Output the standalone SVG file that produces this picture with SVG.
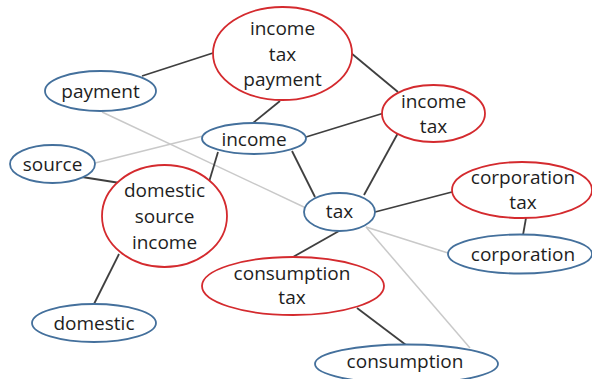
<svg xmlns="http://www.w3.org/2000/svg" width="592" height="379" viewBox="0 0 592 379">
<style>
.bg{fill:#ffffff}
.dk{stroke:#3f3f3f;stroke-width:1.8;fill:none}
.lt{stroke:#c9c9c9;stroke-width:1.5;fill:none}
.b{fill:#ffffff;stroke:#44709c;stroke-width:1.8}
.r{fill:#ffffff;stroke:#d42a2e;stroke-width:1.8}
text{font-family:"Open Sans","Noto Sans","Liberation Sans",sans-serif;font-size:19px;fill:#1e1e1e;text-anchor:middle}
</style>
<rect class="bg" x="0" y="0" width="592" height="379"/>
<g id="connectors">
<line class="lt" x1="102" y1="112" x2="306" y2="208"/>
<line class="lt" x1="95" y1="163" x2="203" y2="136"/>
<line class="lt" x1="366" y1="227" x2="448" y2="253"/>
<line class="lt" x1="366" y1="227" x2="470" y2="348"/>
<line class="dk" x1="142" y1="76" x2="213" y2="53"/>
<line class="dk" x1="280" y1="101" x2="253" y2="123"/>
<line class="dk" x1="351" y1="53" x2="398" y2="92"/>
<line class="dk" x1="306" y1="137" x2="384" y2="113"/>
<line class="dk" x1="398" y1="133" x2="364" y2="195"/>
<line class="dk" x1="292" y1="151" x2="315" y2="197"/>
<line class="dk" x1="82" y1="177" x2="120" y2="183"/>
<line class="dk" x1="218" y1="152" x2="209" y2="182"/>
<line class="dk" x1="119" y1="254" x2="94" y2="304"/>
<line class="dk" x1="375" y1="212" x2="452" y2="192"/>
<line class="dk" x1="339" y1="231" x2="293" y2="257"/>
<line class="dk" x1="357" y1="308" x2="406" y2="345"/>
<line class="dk" x1="526" y1="218" x2="523" y2="235"/>
</g>
<g id="income-tax-payment">
<ellipse class="r" cx="282.5" cy="53.5" rx="69.5" ry="46.5"/>
<text x="282.5" y="35">income</text>
<text x="282.5" y="61">tax</text>
<text x="282.5" y="86">payment</text>
</g>
<g id="payment">
<ellipse class="b" cx="100.5" cy="91" rx="55.5" ry="20"/>
<text x="100.5" y="97.5">payment</text>
</g>
<g id="income">
<ellipse class="b" cx="254" cy="138.5" rx="52" ry="15.5"/>
<text x="254" y="145.5">income</text>
</g>
<g id="source">
<ellipse class="b" cx="52.5" cy="164" rx="42.5" ry="19"/>
<text x="52.5" y="171">source</text>
</g>
<g id="domestic-source-income">
<ellipse class="r" cx="164.5" cy="216" rx="62.5" ry="51"/>
<text x="164.5" y="197">domestic</text>
<text x="164.5" y="223">source</text>
<text x="164.5" y="249">income</text>
</g>
<g id="domestic">
<ellipse class="b" cx="94" cy="323" rx="62" ry="19"/>
<text x="94" y="329.5">domestic</text>
</g>
<g id="income-tax">
<ellipse class="r" cx="433.5" cy="113.5" rx="51.5" ry="28.5"/>
<text x="433.5" y="108">income</text>
<text x="433.5" y="133">tax</text>
</g>
<g id="tax">
<ellipse class="b" cx="339.5" cy="212" rx="35.5" ry="19"/>
<text x="339.5" y="218">tax</text>
</g>
<g id="corporation-tax">
<ellipse class="r" cx="522" cy="190" rx="70" ry="28"/>
<text x="523" y="184">corporation</text>
<text x="523" y="209">tax</text>
</g>
<g id="corporation">
<ellipse class="b" cx="520" cy="254" rx="72" ry="19.5"/>
<text x="523" y="260.5">corporation</text>
</g>
<g id="consumption-tax">
<ellipse class="r" cx="293" cy="286" rx="91" ry="29"/>
<text x="292" y="280">consumption</text>
<text x="292" y="304">tax</text>
</g>
<g id="consumption">
<ellipse class="b" cx="406.5" cy="364" rx="91.5" ry="19.5"/>
<text x="405" y="368">consumption</text>
</g>
</svg>
